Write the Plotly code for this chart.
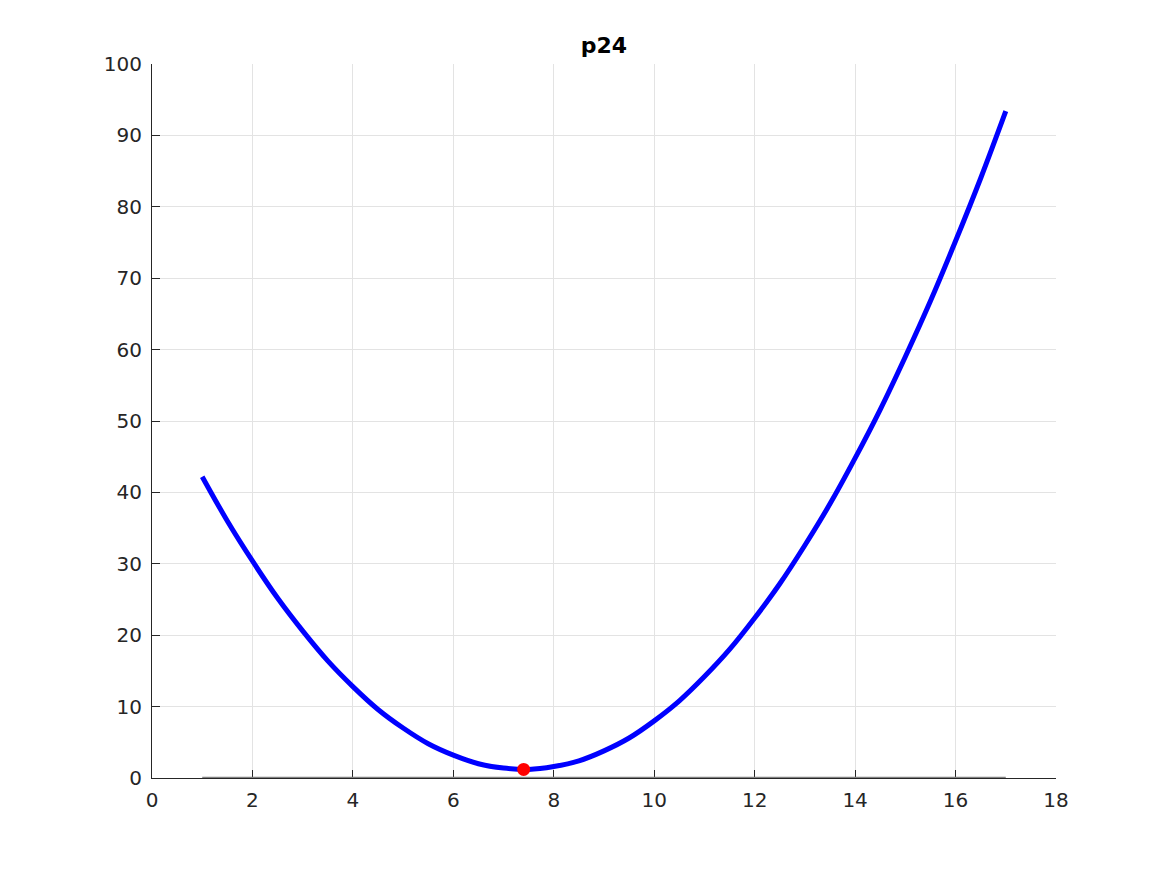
import plotly.graph_objects as go

# curve values
x_vals = [1, 1.5, 2, 2.5, 3, 3.5, 4, 4.5, 5, 5.5, 6, 6.5, 7, 7.5, 8, 8.5, 9, 9.5, 10,
          10.5, 11, 11.5, 12, 12.5, 13, 13.5, 14, 14.5, 15, 15.5, 16, 16.5, 17]
y_vals = [42.2, 36.0, 30.4, 25.2, 20.6, 16.4, 12.8, 9.6, 7.0, 4.8, 3.2, 2.0, 1.4, 1.2, 1.6, 2.4,
          3.8, 5.6, 8.0, 10.8, 14.2, 18.0, 22.4, 27.2, 32.6, 38.4, 44.8, 51.6, 59.0, 66.8,
          75.2, 84.0, 93.4]

# baseline (zero line) from x=1 to x=17
base_x = [1, 17]
base_y = [0, 0]

# minimum point
min_x = [7.4]
min_y = [1.2]

title_text = "p24"
x_ticks = [0, 2, 4, 6, 8, 10, 12, 14, 16, 18]
y_ticks = [0, 10, 20, 30, 40, 50, 60, 70, 80, 90, 100]

fig = go.Figure()
fig.add_trace(go.Scatter(x=base_x, y=base_y, mode="lines",
                         line=dict(color="#808080", width=2.5), cliponaxis=False,
                         hoverinfo="skip"))
fig.add_trace(go.Scatter(x=x_vals, y=y_vals, mode="lines",
                         line=dict(color="#0000ff", width=5, shape="spline", smoothing=1.0)))
fig.add_trace(go.Scatter(x=min_x, y=min_y, mode="markers",
                         marker=dict(color="#ff0000", size=13), cliponaxis=False))

axis_common = dict(
    showline=True, linecolor="#262626", linewidth=1,
    ticks="inside", ticklen=8, tickwidth=1, tickcolor="#262626",
    showgrid=True, gridcolor="#e3e3e3", gridwidth=1,
    zeroline=False,
    tickfont=dict(family="DejaVu Sans", size=20, color="#262626"),
    layer="below traces",
)

fig.update_layout(
    width=1167, height=875,
    paper_bgcolor="white", plot_bgcolor="white",
    margin=dict(l=144, r=119, t=56, b=105),
    showlegend=False,
    title=dict(text="<b>" + title_text + "</b>", x=596 / 1167, xanchor="center",
               y=1 - 37 / 875, yanchor="middle",
               font=dict(family="DejaVu Sans", size=22, color="#000000")),
    xaxis=dict(range=[0, 18], tickvals=x_ticks, ticklabelstandoff=4, **axis_common),
    yaxis=dict(range=[0, 100], tickvals=y_ticks, ticklabelstandoff=5, **axis_common),
)

fig.write_html("out.html")
